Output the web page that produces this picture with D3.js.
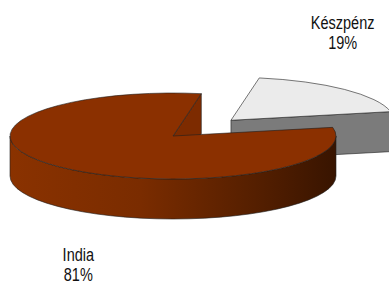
<!DOCTYPE html>
<html>
<head>
<meta charset="utf-8">
<script src="https://cdn.jsdelivr.net/npm/d3@7"></script>
<style>
  html, body { margin: 0; padding: 0; background: #fff; }
  svg { display: block; }
</style>
</head>
<body>
<div id="chart"></div>
<script>
"use strict";

// data
var categories = ["Készpénz", "India"];
var values = [19, 81];
var percentLabels = ["19%", "81%"];

var width = 389;
var height = 284;
var cx = 173, cy = 136;      // centre of the top ellipse
var rx = 163, ry = 43;       // ellipse radii
var depth = 40;              // thickness of the pie
var explode = [0.51, 0];     // how far each slice is pulled out
var deg = Math.PI / 180;

var topColors = ["#ebebeb", "#8b3000"];
var sideColors = ["#7b7b7b", "url(#sideGrad)"];
var faceColors = ["#7b7b7b", "#7d2b00"];

var pie = d3.pie().sort(null).value(function (d) { return d; })
  .startAngle(10 * deg).endAngle(10 * deg + 2 * Math.PI);
var slices = pie(values);

var svg = d3.select("#chart").append("svg")
  .attr("width", width).attr("height", height);

var defs = svg.append("defs");
var grad = defs.append("linearGradient").attr("id", "sideGrad")
  .attr("gradientUnits", "userSpaceOnUse")
  .attr("x1", cx - rx).attr("x2", cx + rx).attr("y1", 0).attr("y2", 0);
grad.append("stop").attr("offset", 0).attr("stop-color", "#8a3200");
grad.append("stop").attr("offset", 0.4).attr("stop-color", "#7a2c00");
grad.append("stop").attr("offset", 0.75).attr("stop-color", "#551f00");
grad.append("stop").attr("offset", 1).attr("stop-color", "#381400");

function pt(o, a, dy) {
  return [o[0] + rx * Math.sin(a), o[1] - ry * Math.cos(a) + (dy || 0)];
}

function origin(d, i) {
  var m = (d.startAngle + d.endAngle) / 2;
  return [cx + explode[i] * rx * Math.sin(m), cy - explode[i] * ry * Math.cos(m)];
}

function topPath(o, a0, a1) {
  var p0 = pt(o, a0), p1 = pt(o, a1);
  var large = (a1 - a0) > Math.PI ? 1 : 0;
  return "M" + o[0] + "," + o[1] + "L" + p0[0] + "," + p0[1] +
    "A" + rx + "," + ry + " 0 " + large + " 1 " + p1[0] + "," + p1[1] + "Z";
}

function wallPath(o, a0, a1) {
  var p0 = pt(o, a0), p1 = pt(o, a1);
  var q0 = pt(o, a0, depth), q1 = pt(o, a1, depth);
  return "M" + p0[0] + "," + p0[1] +
    "A" + rx + "," + ry + " 0 0 1 " + p1[0] + "," + p1[1] +
    "L" + q1[0] + "," + q1[1] +
    "A" + rx + "," + ry + " 0 0 0 " + q0[0] + "," + q0[1] + "Z";
}

function facePath(o, a) {
  var p = pt(o, a);
  return "M" + o[0] + "," + o[1] + "L" + p[0] + "," + p[1] +
    "L" + p[0] + "," + (p[1] + depth) + "L" + o[0] + "," + (o[1] + depth) + "Z";
}

var g = svg.append("g");
var strokeCol = "#1e1e1e";

// back slice first (the exploded one), then the big one in front
[0, 1].forEach(function (i) {
  var d = slices[i];
  var o = origin(d, i);
  var a0 = d.startAngle, a1 = d.endAngle;

  // radial faces that turn towards the viewer
  var faceStart = Math.cos(a0 - Math.PI / 2) < 0;
  var faceEnd = Math.cos(a1 + Math.PI / 2) < 0;
  if (faceStart) {
    g.append("path").attr("d", facePath(o, a0))
      .attr("fill", faceColors[i]).attr("stroke", strokeCol).attr("stroke-width", 0.6)
      .attr("stroke-linejoin", "round");
  }
  if (faceEnd) {
    g.append("path").attr("d", facePath(o, a1))
      .attr("fill", faceColors[i]).attr("stroke", strokeCol).attr("stroke-width", 0.6)
      .attr("stroke-linejoin", "round");
  }

  // outer wall, front half only
  var w0 = Math.max(a0, 90 * deg), w1 = Math.min(a1, 270 * deg);
  if (w1 > w0) {
    g.append("path").attr("d", wallPath(o, w0, w1))
      .attr("fill", sideColors[i]).attr("stroke", strokeCol).attr("stroke-width", 0.6);
  }

  g.append("path").attr("d", topPath(o, a0, a1))
    .attr("fill", topColors[i]).attr("stroke", strokeCol).attr("stroke-width", 0.6)
    .attr("stroke-linejoin", "round");
});

// labels
var lx = 148, ly = 100, lineGap = 20, capH = 13;
slices.forEach(function (d, i) {
  var o = origin(d, i);
  var m = (d.startAngle + d.endAngle) / 2;
  var x = o[0] + lx * Math.sin(m) + 8.5;
  var lines = [categories[i], percentLabels[i]];
  var y0;
  if (Math.cos(m) > 0) {
    y0 = o[1] - ly * Math.cos(m) - lineGap;
  } else {
    y0 = o[1] + depth - ly * Math.cos(m) + capH;
  }
  lines.forEach(function (t, k) {
    svg.append("text")
      .attr("transform", "translate(" + x + "," + (y0 + k * lineGap) + ") scale(1,1.25)")
      .attr("text-anchor", "middle")
      .style("font-family", "'Liberation Sans', Arial, sans-serif")
      .style("font-size", "14.5px")
      .attr("fill", "#111")
      .text(t);
  });
});
</script>
</body>
</html>
